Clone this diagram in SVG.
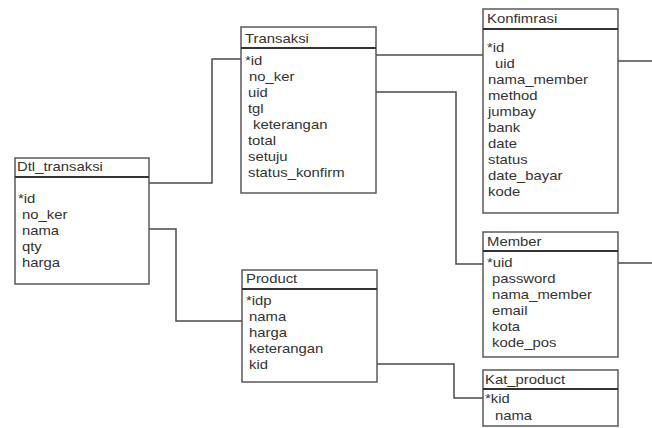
<svg xmlns="http://www.w3.org/2000/svg" width="652" height="428" viewBox="0 0 652 428">
<style>
.box{fill:#fff;stroke:#5a5a5a;stroke-width:1.5}
.hdr{stroke:#333;stroke-width:2}
.t{font-family:"Liberation Sans",Arial,sans-serif;font-size:12px;fill:#333}
.c{fill:none;stroke:#4a4a4a;stroke-width:1.5}
</style>
<rect width="652" height="428" fill="#fff"/>
<g id="connectors">
<polyline class="c" points="149,183 212,183 212,59 241,59"/>
<polyline class="c" points="149,229 176,229 176,321 242,321"/>
<polyline class="c" points="376,55 483,55"/>
<polyline class="c" points="376,92 456,92 456,264 483,264"/>
<polyline class="c" points="618,61 652,61"/>
<polyline class="c" points="618,263 652,263"/>
<polyline class="c" points="377,364 454,364 454,398 483,398"/>
</g>
<g id="dtl_transaksi">
<rect class="box" x="15" y="158" width="134" height="126"/>
<line class="hdr" x1="15" y1="177" x2="149" y2="177"/>
<g class="t" transform="translate(17 0) scale(1.24 1)">
<text x="0" y="171">Dtl_transaksi</text>
<text x="0.8" y="203">*id</text>
<text x="4" y="219">no_ker</text>
<text x="4" y="235">nama</text>
<text x="4" y="251">qty</text>
<text x="4" y="267">harga</text>
</g>
</g>
<g id="transaksi">
<rect class="box" x="241" y="27" width="135" height="166"/>
<line class="hdr" x1="241" y1="48" x2="376" y2="48"/>
<g class="t" transform="translate(245 0) scale(1.24 1)">
<text x="0" y="43">Transaksi</text>
<text x="0" y="65">*id</text>
<text x="3.2" y="81">no_ker</text>
<text x="2.4" y="97">uid</text>
<text x="2.4" y="113">tgl</text>
<text x="6.5" y="129">keterangan</text>
<text x="2.4" y="145">total</text>
<text x="2.4" y="161">setuju</text>
<text x="2.4" y="177">status_konfirm</text>
</g>
</g>
<g id="konfimrasi">
<rect class="box" x="483" y="9" width="135" height="204"/>
<line class="hdr" x1="483" y1="29" x2="618" y2="29"/>
<g class="t" transform="translate(487 0) scale(1.24 1)">
<text x="0" y="23">Konfimrasi</text>
<text x="0" y="52">*id</text>
<text x="6.5" y="68">uid</text>
<text x="0.8" y="84">nama_member</text>
<text x="0.8" y="100">method</text>
<text x="0.8" y="116">jumbay</text>
<text x="0.8" y="132">bank</text>
<text x="0.8" y="148">date</text>
<text x="0.8" y="164">status</text>
<text x="0.8" y="180">date_bayar</text>
<text x="0.8" y="196">kode</text>
</g>
</g>
<g id="member">
<rect class="box" x="483" y="232" width="135" height="125"/>
<line class="hdr" x1="483" y1="251" x2="618" y2="251"/>
<g class="t" transform="translate(487 0) scale(1.24 1)">
<text x="0" y="246">Member</text>
<text x="0" y="267">*uid</text>
<text x="4" y="283">password</text>
<text x="4" y="299">nama_member</text>
<text x="4" y="315">email</text>
<text x="4" y="331">kota</text>
<text x="4" y="347">kode_pos</text>
</g>
</g>
<g id="product">
<rect class="box" x="242" y="270" width="135" height="112"/>
<line class="hdr" x1="242" y1="289" x2="377" y2="289"/>
<g class="t" transform="translate(246 0) scale(1.24 1)">
<text x="0" y="283">Product</text>
<text x="0" y="305">*idp</text>
<text x="2.4" y="321">nama</text>
<text x="2.4" y="337">harga</text>
<text x="2.4" y="353">keterangan</text>
<text x="2.4" y="369">kid</text>
</g>
</g>
<g id="kat_product">
<rect class="box" x="483" y="370" width="135" height="56"/>
<line class="hdr" x1="483" y1="389" x2="618" y2="389"/>
<g class="t" transform="translate(485 0) scale(1.24 1)">
<text x="0" y="384">Kat_product</text>
<text x="0" y="403">*kid</text>
<text x="8" y="420">nama</text>
</g>
</g>
</svg>
